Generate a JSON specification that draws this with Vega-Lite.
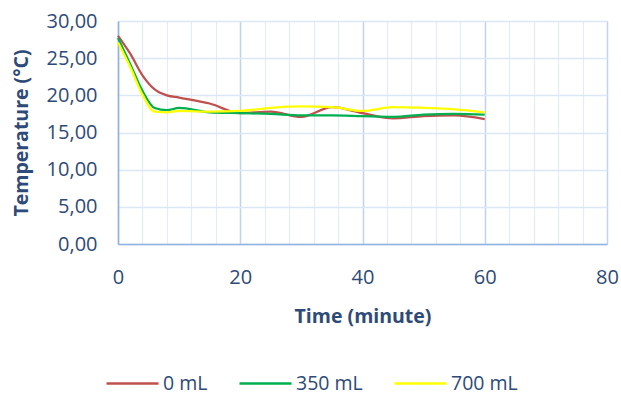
{
  "$schema": "https://vega.github.io/schema/vega-lite/v6.json",
  "width": 489,
  "height": 223,
  "autosize": "none",
  "padding": {"left": 118, "top": 21, "right": 14, "bottom": 152},
  "background": "white",
  "config": {
    "font": "Open Sans",
    "view": {"stroke": "#C9DAF0", "strokeWidth": 1},
    "axis": {"labelFont": "Open Sans", "titleFont": "Open Sans", "labelColor": "#2E4A78", "titleColor": "#2E4A78", "labelFontSize": 20, "titleFontSize": 19.5, "titleFontWeight": "bold", "ticks": false, "domainColor": "#8FB3E0", "domainWidth": 1.5, "gridOpacity": 1}
  },
  "data": {"values": [
    {"t": 0, "T": 28.0, "s": "0 mL"}, {"t": 2, "T": 25.6, "s": "0 mL"}, {"t": 4, "T": 22.7, "s": "0 mL"}, {"t": 6, "T": 20.8, "s": "0 mL"}, {"t": 8, "T": 20.0, "s": "0 mL"}, {"t": 10, "T": 19.7, "s": "0 mL"}, {"t": 15, "T": 18.9, "s": "0 mL"}, {"t": 20, "T": 17.6, "s": "0 mL"}, {"t": 25, "T": 17.8, "s": "0 mL"}, {"t": 30, "T": 17.1, "s": "0 mL"}, {"t": 35, "T": 18.4, "s": "0 mL"}, {"t": 40, "T": 17.6, "s": "0 mL"}, {"t": 45, "T": 16.9, "s": "0 mL"}, {"t": 50, "T": 17.2, "s": "0 mL"}, {"t": 55, "T": 17.3, "s": "0 mL"}, {"t": 60, "T": 16.8, "s": "0 mL"},
    {"t": 0, "T": 27.7, "s": "350 mL"}, {"t": 2, "T": 24.2, "s": "350 mL"}, {"t": 4, "T": 20.6, "s": "350 mL"}, {"t": 6, "T": 18.3, "s": "350 mL"}, {"t": 8, "T": 18.0, "s": "350 mL"}, {"t": 10, "T": 18.3, "s": "350 mL"}, {"t": 15, "T": 17.7, "s": "350 mL"}, {"t": 20, "T": 17.6, "s": "350 mL"}, {"t": 25, "T": 17.5, "s": "350 mL"}, {"t": 30, "T": 17.3, "s": "350 mL"}, {"t": 35, "T": 17.3, "s": "350 mL"}, {"t": 40, "T": 17.2, "s": "350 mL"}, {"t": 45, "T": 17.1, "s": "350 mL"}, {"t": 50, "T": 17.4, "s": "350 mL"}, {"t": 55, "T": 17.5, "s": "350 mL"}, {"t": 60, "T": 17.4, "s": "350 mL"},
    {"t": 0, "T": 27.1, "s": "700 mL"}, {"t": 2, "T": 23.8, "s": "700 mL"}, {"t": 4, "T": 20.1, "s": "700 mL"}, {"t": 6, "T": 17.8, "s": "700 mL"}, {"t": 8, "T": 17.7, "s": "700 mL"}, {"t": 10, "T": 17.9, "s": "700 mL"}, {"t": 15, "T": 17.8, "s": "700 mL"}, {"t": 20, "T": 17.9, "s": "700 mL"}, {"t": 25, "T": 18.3, "s": "700 mL"}, {"t": 30, "T": 18.5, "s": "700 mL"}, {"t": 35, "T": 18.4, "s": "700 mL"}, {"t": 40, "T": 17.9, "s": "700 mL"}, {"t": 45, "T": 18.4, "s": "700 mL"}, {"t": 50, "T": 18.3, "s": "700 mL"}, {"t": 55, "T": 18.1, "s": "700 mL"}, {"t": 60, "T": 17.7, "s": "700 mL"}
  ]},
  "mark": {"type": "line", "interpolate": "monotone", "strokeWidth": 2.25},
  "encoding": {
    "x": {"field": "t", "type": "quantitative", "title": "Time (minute)",
      "scale": {"domain": [0, 80], "nice": false},
      "axis": {"values": [0,4,8,12,16,20,24,28,32,36,40,44,48,52,56,60,64,68,72,76,80],
        "labelExpr": "datum.value % 20 === 0 ? datum.value : ''",
        "gridColor": {"condition": {"test": "datum.value % 20 === 0", "value": "#BFD3EE"}, "value": "#E3ECF8"},
        "gridWidth": {"condition": {"test": "datum.value % 20 === 0", "value": 1.5}, "value": 1.2},
        "labelPadding": 23, "titlePadding": 20, "labelFlush": false}},
    "y": {"field": "T", "type": "quantitative", "title": "Temperature (°C)",
      "scale": {"domain": [0, 30], "nice": false},
      "axis": {"values": [0,5,10,15,20,25,30],
        "labelExpr": "replace(format(datum.value, '.2f'), '.', ',')",
        "gridColor": "#DCE7F5", "gridWidth": 1.3,
        "labelPadding": 21, "titlePadding": 15}},
    "color": {"field": "s", "type": "nominal", "title": null,
      "scale": {"domain": ["0 mL", "350 mL", "700 mL"], "range": ["#C0504D", "#00B050", "#FFFF00"]},
      "legend": {"orient": "none", "legendX": -13, "legendY": 335, "direction": "horizontal",
        "symbolType": "stroke", "symbolSize": 2704, "symbolStrokeWidth": 2.5,
        "labelFontSize": 19.5, "labelColor": "#2E4A78", "labelFont": "Open Sans", "columnPadding": 26, "labelOffset": 3}}
  }
}
